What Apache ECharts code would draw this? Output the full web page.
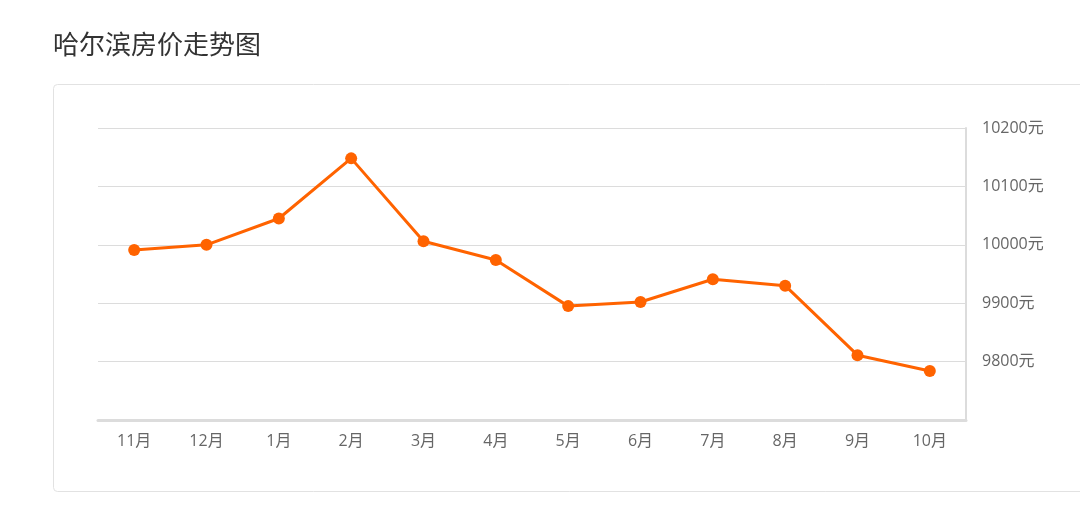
<!DOCTYPE html>
<html>
<head>
<meta charset="utf-8">
<script src="https://cdn.jsdelivr.net/npm/echarts@6/dist/echarts.min.js"></script>
<style>
html,body{margin:0;padding:0;background:#fff;}
#chart{width:1080px;height:526px;}
</style>
</head>
<body>
<div id="chart"></div>
<script>
const titleText = '哈尔滨房价走势图';
const months = ['11月','12月','1月','2月','3月','4月','5月','6月','7月','8月','9月','10月'];
const prices = [9991, 10000, 10045, 10148, 10006, 9974, 9895, 9902, 9941, 9930, 9811, 9784];
const yMin = 9700, yMax = 10200, yStep = 100;
const unit = '元';

const labelFont = '"Open Sans", "Noto Sans CJK SC", sans-serif';
const chart = echarts.init(document.getElementById('chart'));
chart.setOption({
  animation: false,
  backgroundColor: '#fff',
  title: {
    text: titleText,
    left: 48,
    top: 26,
    textStyle: {
      fontFamily: '"Noto Sans CJK SC", sans-serif',
      fontSize: 26,
      fontWeight: 'normal',
      color: '#333'
    }
  },
  graphic: [{
    type: 'rect',
    silent: true,
    z: -1,
    shape: { x: 53.5, y: 84.5, width: 1100, height: 407, r: 4 },
    style: { fill: 'none', stroke: '#e2e2e2', lineWidth: 1 }
  }],
  grid: { left: 98, right: 114, top: 128, bottom: 106 },
  xAxis: {
    type: 'category',
    data: months,
    boundaryGap: true,
    axisLine: { lineStyle: { color: '#dcdcdc', width: 3 } },
    axisTick: { alignWithLabel: true, length: 5, lineStyle: { color: '#dcdcdc' } },
    axisLabel: {
      color: '#666',
      fontSize: 16,
      margin: 13,
      fontFamily: labelFont
    }
  },
  yAxis: {
    type: 'value',
    position: 'right',
    min: yMin,
    max: yMax,
    interval: yStep,
    axisLine: { show: true, lineStyle: { color: '#dcdcdc', width: 2 } },
    axisTick: { show: false },
    splitLine: { lineStyle: { color: '#dcdcdc', width: 1 } },
    axisLabel: {
      color: '#666',
      fontSize: 16,
      margin: 16,
      fontFamily: labelFont,
      formatter: function (v) { return v === yMin ? '' : v + unit; }
    }
  },
  series: [{
    type: 'line',
    data: prices,
    symbol: 'circle',
    symbolSize: 12,
    itemStyle: { color: '#ff6300' },
    lineStyle: { color: '#ff6300', width: 3 }
  }]
});
</script>
</body>
</html>
